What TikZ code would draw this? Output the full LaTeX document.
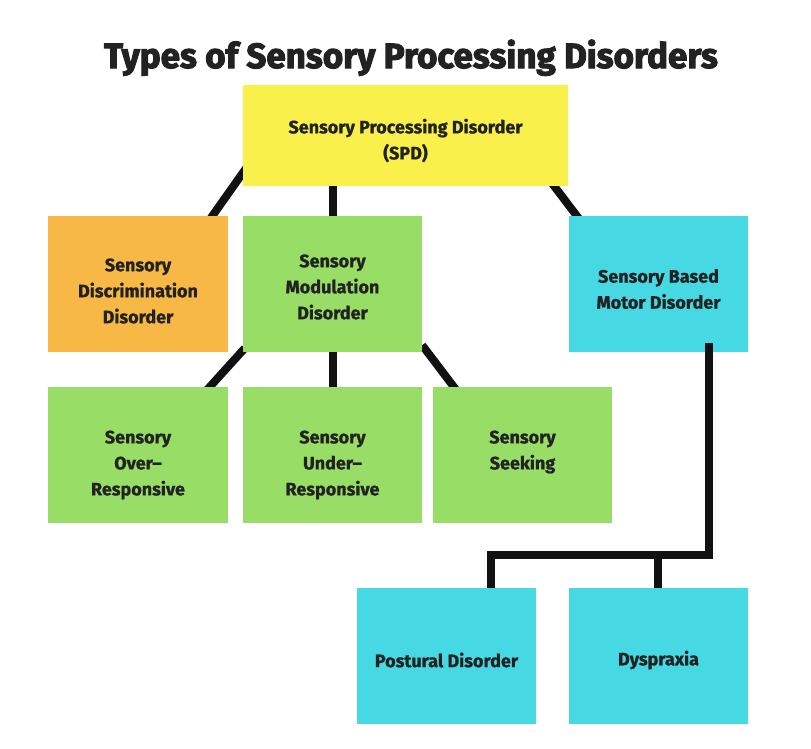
\documentclass[tikz,border=0pt]{standalone}
\usepackage{fontspec}
\setmainfont{Fira Sans}
\newfontfamily\titlefont{Fira Sans}[BoldFeatures={FakeBold=3}]
\newfontfamily\boxfont{Fira Sans}[BoldFeatures={FakeBold=1}]
\usetikzlibrary{calc,backgrounds}
\definecolor{cyel}{HTML}{F9F04B}
\definecolor{corg}{HTML}{F8B846}
\definecolor{cgrn}{HTML}{98DD65}
\definecolor{ccyn}{HTML}{46D8E3}
\definecolor{ctxt}{HTML}{222222}
\definecolor{cline}{HTML}{111111}
\tikzset{
  box/.style={inner sep=0pt, minimum width=179pt, minimum height=136pt},
  txt/.style={inner sep=0pt, align=center, text=ctxt, font=\boxfont\bfseries\fontsize{18}{26}\selectfont},
  conn/.style={draw=cline, line width=8pt, line cap=butt, line join=miter},
}
\begin{document}
\begin{tikzpicture}[x=1pt,y=-1pt]
\useasboundingbox (0,0) rectangle (811,748);
\node[anchor=base, text=ctxt, font=\titlefont\bfseries\fontsize{35}{40}\selectfont] (title) at (411,68) {Types of Sensory Processing Disorders};
\node[box, fill=cyel, minimum width=325pt, minimum height=101pt] (spd) at (405.5,135.5) {};
\node[box, fill=corg, minimum width=180pt] (disc) at (138,284) {};
\node[box, fill=cgrn] (mod) at (332.5,284) {};
\node[box, fill=ccyn] (motor) at (658.5,284) {};
\node[box, fill=cgrn, minimum width=180pt] (over) at (138,455) {};
\node[box, fill=cgrn] (under) at (332.5,455) {};
\node[box, fill=cgrn] (seek) at (522.5,455) {};
\node[box, fill=ccyn] (post) at (446.5,656) {};
\node[box, fill=ccyn] (dys) at (658.5,656) {};
\node[txt] (spd-t) at ($(spd)+(0,5)$) {Sensory Processing Disorder\\(SPD)};
\node[txt] (disc-t) at ($(disc)+(0,7)$) {Sensory\\Discrimination\\Disorder};
\node[txt] (mod-t) at ($(mod)+(0,3)$) {Sensory\\Modulation\\Disorder};
\node[txt] (motor-t) at ($(motor)+(0,5)$) {Sensory Based\\Motor Disorder};
\node[txt] (over-t) at ($(over)+(0,10)$) {Sensory\\Over\textendash\\Responsive};
\node[txt] (under-t) at ($(under)+(0,10)$) {Sensory\\Under\textendash\\Responsive};
\node[txt] (seek-t) at ($(seek)+(0,-3)$) {Sensory\\Seeking};
\node[txt] (post-t) at ($(post)+(0,4)$) {Postural Disorder};
\node[txt] (dys-t) at ($(dys)+(0,4)$) {Dyspraxia};
\begin{scope}[on background layer]
  \fill[white] (0,0) rectangle (811,748);
  \draw[conn] ($(spd.south west)+(4,-19)$) -- ($(disc.north east)+(-20,6)$);
  \draw[conn] (mod.north |- spd.south) ++(0,-4) -- ($(mod.north)+(0,4)$);
  \draw[conn] ($(spd.south east)+(-17,-4)$) -- ($(motor.north west)+(11,4)$);
  \draw[conn] ($(mod.south west)+(2,-4)$) -- ($(over.north east)+(-22,4)$);
  \draw[conn] ($(mod.south)+(0,-4)$) -- ($(under.north)+(0,4)$);
  \draw[conn] ($(mod.south east)+(0,-7)$) -- ($(seek.north west)+(24,4)$);
\end{scope}
\coordinate (mstart) at ($(motor.south east)+(-39,-9)$);
\coordinate (bus) at ($(mstart)+(0,212)$);
\coordinate (pdrop) at ($(post.north west)+(134,0)$);
\coordinate (ddrop) at ($(dys.north west)+(89,0)$);
\draw[conn] (mstart) -- (bus) -| ($(pdrop)+(0,-4)$) -- (pdrop);
\draw[conn] (ddrop |- bus) -- (ddrop);
\end{tikzpicture}
\end{document}
